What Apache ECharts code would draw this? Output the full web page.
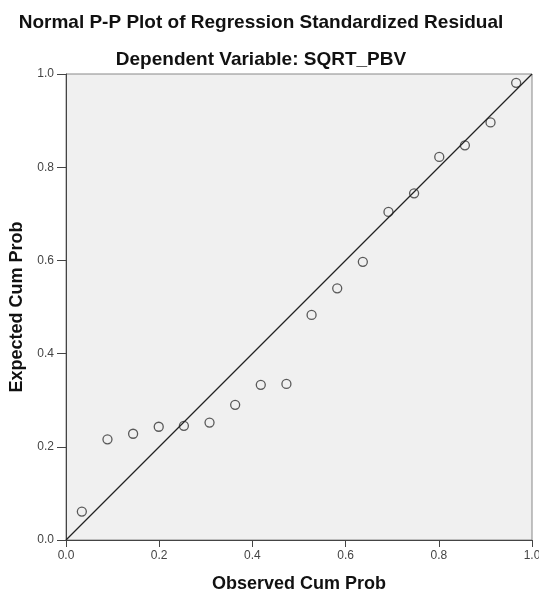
<!DOCTYPE html>
<html>
<head>
    <meta charset="utf-8">
    <title>Normal P-P Plot</title>
    <script src="https://cdn.jsdelivr.net/npm/echarts@6/dist/echarts.min.js"></script>
</head>
<body style="margin:0;background:#fff;">
    <div id="main" style="width:539px;height:596px;"></div>
    <script type="text/javascript">
        // observed / expected cumulative probabilities
        var observed = [0.034, 0.089, 0.144, 0.199, 0.253, 0.308, 0.363, 0.418, 0.473,
                        0.527, 0.582, 0.637, 0.692, 0.747, 0.801, 0.856, 0.911, 0.966];
        var expected = [0.061, 0.216, 0.228, 0.243, 0.245, 0.252, 0.290, 0.333, 0.335,
                        0.483, 0.540, 0.597, 0.704, 0.744, 0.822, 0.847, 0.896, 0.981];
        var refLine = [[0, 0], [1, 1]];
        var tickLabels = ['0.0', '0.2', '0.4', '0.6', '0.8', '1.0'];

        var points = observed.map(function (x, i) { return [x, expected[i]]; });

        var myChart = echarts.init(document.getElementById('main'));

        var axisCommon = {
            type: 'value',
            min: 0,
            max: 1,
            interval: 0.2,
            splitLine: { show: false },
            axisLine: { show: true, lineStyle: { color: '#444', width: 1 } },
            axisTick: { show: true, length: 7, lineStyle: { color: '#444' } },
            axisLabel: {
                color: '#444',
                fontFamily: 'Liberation Sans, Arial',
                fontSize: 12,
                margin: 10,
                formatter: function (v) { return tickLabels[Math.round(v * 5)]; }
            },
            nameLocation: 'middle',
            nameTextStyle: {
                color: '#111',
                fontFamily: 'Liberation Sans, Arial',
                fontWeight: 'bold',
                fontSize: 18
            }
        };

        var option = {
            backgroundColor: '#fff',
            title: [{
                text: 'Normal P-P Plot of Regression Standardized Residual',
                left: 256,
                textAlign: 'center',
                top: 8,
                textStyle: { fontFamily: 'Liberation Sans, Arial', fontSize: 19, fontWeight: 'bold', color: '#111' }
            }, {
                text: 'Dependent Variable: SQRT_PBV',
                left: 256,
                textAlign: 'center',
                top: 45,
                textStyle: { fontFamily: 'Liberation Sans, Arial', fontSize: 19, fontWeight: 'bold', color: '#111' }
            }],
            grid: {
                left: 66,
                right: 7,
                top: 74,
                bottom: 56,
                outerBoundsMode: 'none',
                show: true,
                backgroundColor: '#f0f0f0',
                borderColor: '#888',
                borderWidth: 1
            },
            xAxis: Object.assign({}, axisCommon, { name: 'Observed Cum Prob', nameGap: 35 }),
            yAxis: Object.assign({}, axisCommon, {
                name: 'Expected Cum Prob',
                nameGap: 31,
                axisTick: { show: true, length: 9, lineStyle: { color: '#444' } },
                axisLabel: Object.assign({}, axisCommon.axisLabel, { margin: 12 })
            }),
            series: [{
                type: 'line',
                data: refLine,
                symbol: 'none',
                silent: true,
                lineStyle: { color: '#222', width: 1.2 }
            }, {
                type: 'scatter',
                data: points,
                symbol: 'circle',
                symbolSize: 9,
                itemStyle: { color: 'rgba(0,0,0,0)', borderColor: '#333', borderWidth: 1.3 }
            }]
        };

        myChart.setOption(option);
    </script>
</body>
</html>
